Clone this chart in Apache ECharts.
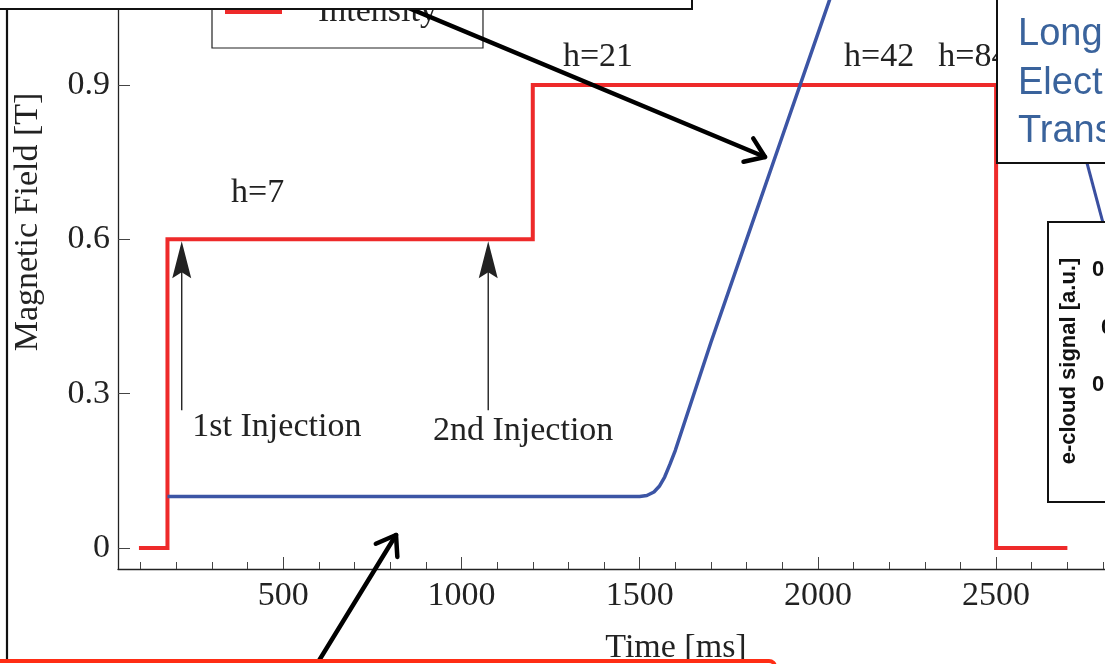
<!DOCTYPE html>
<html>
<head>
<meta charset="utf-8">
<script src="https://cdn.jsdelivr.net/npm/echarts@6/dist/echarts.min.js"></script>
<style>
  html, body { margin: 0; padding: 0; background: #fff; }
  #chart { width: 1105px; height: 664px; }
</style>
</head>
<body>
<div id="chart"></div>
<script>
const SERIF = '"Liberation Serif", "Times New Roman", serif';
const SANS = '"Liberation Sans", Arial, sans-serif';

// Dipole field ramp over one machine cycle [ms, T]
const fieldTime  = [175, 1500, 1520, 1540, 1555, 1570, 1585, 1600, 1650, 1700, 1800, 1900, 2000, 2100];
const fieldValue = [0.1, 0.1, 0.102, 0.109, 0.12, 0.138, 0.163, 0.19, 0.295, 0.4, 0.6, 0.8, 1.0, 1.2];

// Beam intensity steps (drawn on the same scale)
const intensityTime  = [95, 175, 175, 1200, 1200, 2500, 2500, 2700];
const intensityValue = [0, 0, 0.6, 0.6, 0.9, 0.9, 0, 0];

// Axis ticks
const xMajorTicks = [500, 1000, 1500, 2000, 2500, 3000];
const yTicks = [0, 0.3, 0.6, 0.9];

// Harmonic number labels, anchored in data coordinates
const harmonicText  = ['h=7', 'h=21', 'h=42', 'h=84'];
const harmonicTime  = [428, 1383, 2172, 2436];
const harmonicField = [0.69, 0.955, 0.955, 0.955];

// Injection markers
const injectionText       = ['1st Injection', '2nd Injection'];
const injectionArrowTime  = [215, 1075];
const injectionTipField   = 0.6;
const injectionTailField  = 0.268;
const injectionLabelTime  = [482, 1173];
const injectionLabelField = [0.235, 0.227];

// Inset axis labels of the e-cloud panel
const insetTickText = ['0.2', '0', '0.2'];

const xMinorTicks = [];
for (let t = 100; t <= 3100; t += 100) if (t % 500 !== 0) xMinorTicks.push(t);

const X_MIN = 36.2, X_MAX = 3167.5;
const Y_MIN = -0.0408, Y_MAX = 1.0653;

const zip = (a, b) => a.map((v, i) => [v, b[i]]);

const chart = echarts.init(document.getElementById('chart'), null, { renderer: 'canvas' });

const axisColor = '#222';
const tickStyle = { color: '#444', width: 1 };

chart.setOption({
  animation: false,
  backgroundColor: '#fff',
  grid: { left: 118, top: 0, width: 1116, height: 569, outerBoundsMode: 'none' },
  legend: {
    data: ['Intensity'],
    left: 212, top: -20,
    padding: [15, 46, 19, 13],
    icon: 'rect', itemWidth: 57, itemHeight: 4,
    borderColor: '#222', borderWidth: 1.2, backgroundColor: '#fff',
    textStyle: { fontSize: 34, fontFamily: SERIF, color: '#222', padding: [0, 0, 0, 31] },
    selectedMode: false
  },
  xAxis: [
    {
      type: 'value', min: X_MIN, max: X_MAX, position: 'bottom',
      axisLine: { show: true, onZero: false, lineStyle: { color: axisColor, width: 1.3 } },
      axisTick: { show: true, inside: true, length: 12, customValues: xMajorTicks, lineStyle: tickStyle },
      axisLabel: { customValues: xMajorTicks, margin: 10, fontSize: 34, fontFamily: SERIF, color: '#222',
                   formatter: v => String(v) },
      splitLine: { show: false },
      name: 'Time [ms]', nameLocation: 'middle', nameGap: 62,
      nameTextStyle: { fontSize: 34, fontFamily: SERIF, color: '#222' }
    },
    {
      type: 'value', min: X_MIN, max: X_MAX, position: 'bottom',
      axisLine: { show: false, onZero: false },
      axisTick: { show: true, inside: true, length: 7, customValues: xMinorTicks, lineStyle: tickStyle },
      axisLabel: { show: false },
      splitLine: { show: false }
    }
  ],
  yAxis: {
    type: 'value', min: Y_MIN, max: Y_MAX,
    axisLine: { show: true, onZero: false, lineStyle: { color: axisColor, width: 1.3 } },
    axisTick: { show: true, inside: true, length: 12, customValues: yTicks, lineStyle: tickStyle },
    axisLabel: { customValues: yTicks, margin: 8, fontSize: 34, fontFamily: SERIF, color: '#222',
                 formatter: v => String(v) },
    splitLine: { show: false }
  },
  series: [
    {
      name: 'Intensity', type: 'line', xAxisIndex: 0,
      data: zip(intensityTime, intensityValue),
      showSymbol: false, symbol: 'none',
      itemStyle: { color: '#ee2a2a' },
      lineStyle: { color: '#ee2a2a', width: 4, join: 'miter', cap: 'butt' },
      z: 3
    },
    {
      name: 'Magnetic Field', type: 'line', xAxisIndex: 0,
      data: zip(fieldTime, fieldValue),
      showSymbol: false, symbol: 'none',
      itemStyle: { color: '#3c55a5' },
      lineStyle: { color: '#3c55a5', width: 3.5 },
      z: 4
    }
  ]
});

const px = (t, b) => chart.convertToPixel({ xAxisIndex: 0, yAxisIndex: 0 }, [t, b]);

function serifText(text, p, extra) {
  return Object.assign({
    type: 'text', x: p[0], y: p[1], z: 5,
    style: { text, fontSize: 34, fontFamily: SERIF, fill: '#222', align: 'center', verticalAlign: 'middle' }
  }, extra || {});
}

// thick black pointer with an open chevron head
function pointer(x1, y1, x2, y2, z) {
  const a = Math.atan2(y1 - y2, x1 - x2), arm = 22, spread = 35 * Math.PI / 180;
  const h1 = [x2 + arm * Math.cos(a + spread), y2 + arm * Math.sin(a + spread)];
  const h2 = [x2 + arm * Math.cos(a - spread), y2 + arm * Math.sin(a - spread)];
  const st = { stroke: '#000', lineWidth: 4.5, lineCap: 'round', lineJoin: 'round', fill: null };
  return [
    { type: 'line', z, shape: { x1, y1, x2, y2 }, style: st },
    { type: 'polyline', z, shape: { points: [h1, [x2, y2], h2] }, style: st }
  ];
}

const g = [];

harmonicText.forEach((t, i) => g.push(serifText(t, px(harmonicTime[i], harmonicField[i]))));

injectionText.forEach((t, i) => {
  const tip = px(injectionArrowTime[i], injectionTipField);
  const tail = px(injectionArrowTime[i], injectionTailField);
  const x = tip[0], ty = tip[1] + 2;
  g.push({ type: 'line', z: 5, shape: { x1: x, y1: tail[1], x2: x, y2: ty + 30 }, style: { stroke: '#222', lineWidth: 1.4 } });
  g.push({ type: 'polygon', z: 5, shape: { points: [[x, ty], [x - 9.5, ty + 37], [x, ty + 31], [x + 9.5, ty + 37]] }, style: { fill: '#222' } });
  g.push(serifText(t, px(injectionLabelTime[i], injectionLabelField[i])));
});

// axis title on the left
g.push({ type: 'text', x: 28, y: 222, rotation: Math.PI / 2, z: 5,
  style: { text: 'Magnetic Field [T]', fontSize: 34, fontFamily: SERIF, fill: '#222', align: 'center', verticalAlign: 'middle' } });

// surrounding slide elements
g.push({ type: 'line', z: 18, shape: { x1: 7, y1: 9, x2: 7, y2: 670 }, style: { stroke: '#111', lineWidth: 2.2 } });
pointer(380, -4, 765, 157, 19).forEach(e => g.push(e));
g.push({ type: 'rect', z: 20, shape: { x: -10, y: -10, width: 702, height: 19 }, style: { fill: '#fff', stroke: '#111', lineWidth: 2 } });
pointer(312, 672, 396, 535, 19).forEach(e => g.push(e));
g.push({ type: 'rect', z: 21, shape: { x: -10, y: 661, width: 785, height: 30, r: 6 }, style: { fill: '#fff', stroke: '#ff2d14', lineWidth: 4 } });

// callout connector and boxes on the right
g.push({ type: 'line', z: 20, shape: { x1: 1087, y1: 163, x2: 1106, y2: 234 }, style: { stroke: '#3a4fa0', lineWidth: 3 } });
g.push({ type: 'rect', z: 21, shape: { x: 997, y: -10, width: 200, height: 173 }, style: { fill: '#fff', stroke: '#111', lineWidth: 2 } });
const calloutLines = ['Flat bottom', 'Longitudinal', 'Electron cloud', 'Transverse'];
const calloutBase = [2, 48, 97, 145];
calloutLines.forEach((t, i) => g.push({ type: 'text', z: 22, x: 1018, y: calloutBase[i] - 13,
  style: { text: t, fontSize: 38, fontFamily: SANS, fill: '#3a639c', align: 'left', verticalAlign: 'middle' } }));

g.push({ type: 'rect', z: 21, shape: { x: 1048, y: 222, width: 120, height: 280 }, style: { fill: '#fff', stroke: '#111', lineWidth: 2 } });
g.push({ type: 'text', z: 22, x: 1069, y: 361, rotation: Math.PI / 2,
  style: { text: 'e-cloud signal [a.u.]', fontSize: 22, fontWeight: 'bold', fontFamily: SANS, fill: '#111', align: 'center', verticalAlign: 'middle' } });
const insetX = [1092, 1101, 1092], insetY = [270, 328, 385];
insetTickText.forEach((t, i) => g.push({ type: 'text', z: 22, x: insetX[i], y: insetY[i],
  style: { text: t, fontSize: 22, fontWeight: 'bold', fontFamily: SANS, fill: '#111', align: 'left', verticalAlign: 'middle' } }));

chart.setOption({ graphic: { elements: g } });
</script>
</body>
</html>
